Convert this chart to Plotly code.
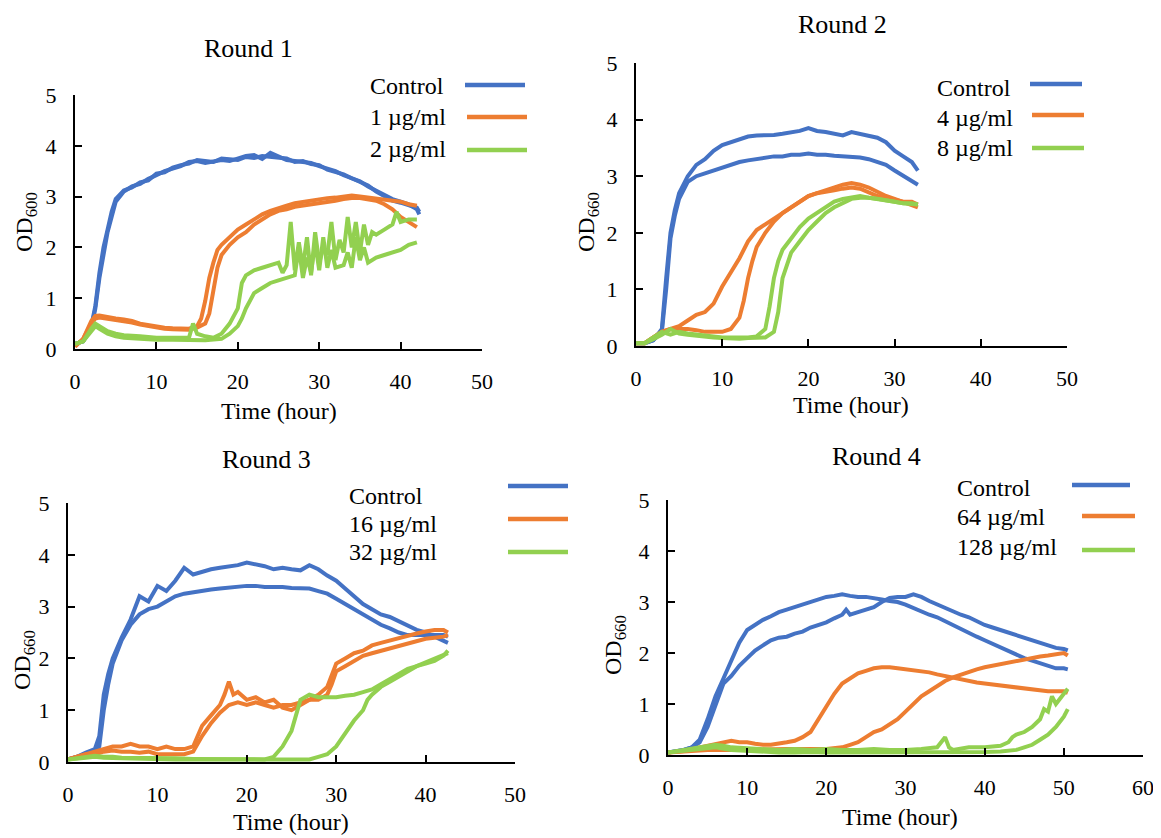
import plotly.graph_objects as go

W, H = 1161, 838
OFF = 8  # page body margin of the rendered html
FW, FH = W - OFF, H - OFF
BLUE, ORANGE, GREEN = "#4472C4", "#ED7D31", "#92D050"
FONT = "Liberation Serif"

# ---------------- Round 1 data ----------------
r1_titles = ["Control", "1 µg/ml", "2 µg/ml"]
r1_ctrl_a_t = [0, 1, 2, 2.5, 3, 3.5, 4, 4.5, 5, 6, 7, 8, 9, 10, 11, 12, 13, 14, 15, 16, 17, 18, 19, 20, 21, 22, 23, 24, 25, 26, 27, 28, 29, 30, 31, 32, 33, 34, 35, 36, 37, 38, 39, 40, 41, 42, 42.3]
r1_ctrl_a_v = [0.1, 0.15, 0.4, 0.8, 1.4, 1.9, 2.3, 2.6, 2.9, 3.1, 3.2, 3.25, 3.35, 3.42, 3.5, 3.55, 3.6, 3.68, 3.7, 3.66, 3.7, 3.72, 3.7, 3.75, 3.8, 3.82, 3.74, 3.86, 3.8, 3.72, 3.7, 3.68, 3.66, 3.6, 3.55, 3.5, 3.42, 3.35, 3.3, 3.2, 3.12, 3.05, 2.95, 2.9, 2.85, 2.75, 2.65]
r1_ctrl_b_t = [0, 1, 2, 2.5, 3, 3.5, 4, 4.5, 5, 6, 7, 8, 9, 10, 11, 12, 13, 14, 15, 16, 17, 18, 19, 20, 21, 22, 23, 24, 25, 26, 27, 28, 29, 30, 31, 32, 33, 34, 35, 36, 37, 38, 39, 40, 41, 42, 42.3]
r1_ctrl_b_v = [0.1, 0.15, 0.45, 0.85, 1.5, 2.0, 2.35, 2.7, 2.95, 3.12, 3.18, 3.28, 3.32, 3.45, 3.48, 3.57, 3.62, 3.65, 3.72, 3.7, 3.68, 3.75, 3.73, 3.72, 3.78, 3.76, 3.8, 3.78, 3.76, 3.75, 3.68, 3.7, 3.64, 3.62, 3.53, 3.48, 3.44, 3.36, 3.28, 3.22, 3.1, 3.02, 2.92, 2.88, 2.82, 2.78, 2.7]
r1_o1_a_t = [0, 1, 2, 2.5, 3, 4, 5, 6, 7, 8, 9, 10, 11, 12, 13, 14, 15, 15.5, 16, 16.5, 17, 17.5, 18, 19, 20, 21, 22, 23, 24, 25, 26, 27, 28, 29, 30, 31, 32, 33, 34, 35, 36, 37, 38, 39, 40, 41, 42]
r1_o1_a_v = [0.05, 0.2, 0.55, 0.65, 0.66, 0.62, 0.6, 0.58, 0.55, 0.5, 0.47, 0.44, 0.42, 0.41, 0.4, 0.4, 0.45, 0.6, 0.95, 1.4, 1.7, 1.95, 2.05, 2.2, 2.35, 2.45, 2.55, 2.65, 2.72, 2.78, 2.82, 2.87, 2.9, 2.93, 2.95, 2.97, 2.98, 3.0, 3.02, 3.0, 2.98, 2.97, 2.95, 2.92, 2.9, 2.85, 2.82]
r1_o1_b_t = [0, 1, 2, 2.5, 3, 4, 5, 6, 7, 8, 9, 10, 11, 12, 13, 14, 15, 16, 16.5, 17, 17.5, 18, 19, 20, 21, 22, 23, 24, 25, 26, 27, 28, 29, 30, 31, 32, 33, 34, 35, 36, 37, 38, 39, 40, 41, 42]
r1_o1_b_v = [0.05, 0.2, 0.5, 0.6, 0.62, 0.6, 0.58, 0.55, 0.52, 0.48, 0.45, 0.42, 0.4, 0.39, 0.38, 0.38, 0.42, 0.5, 0.7, 1.1, 1.6, 1.85, 2.05, 2.2, 2.3, 2.45, 2.55, 2.65, 2.72, 2.75, 2.8, 2.82, 2.85, 2.88, 2.9, 2.92, 2.95, 2.97, 2.97, 2.95, 2.92, 2.85, 2.75, 2.6, 2.5, 2.4]
r1_o2_a_t = [0, 1, 2, 2.5, 3, 4, 5, 6, 8, 10, 12, 14, 14.5, 15, 16, 17, 18, 19, 20, 20.5, 21, 22, 23, 24, 25, 25.5, 26, 26.5, 27, 27.5, 28, 28.5, 29, 29.5, 30, 30.5, 31, 31.5, 32, 32.5, 33, 33.5, 34, 34.5, 35, 35.5, 36, 36.5, 37, 38, 39, 39.5, 40, 41, 42]
r1_o2_a_v = [0.1, 0.15, 0.4, 0.5, 0.45, 0.35, 0.3, 0.27, 0.25, 0.22, 0.22, 0.22, 0.5, 0.3, 0.25, 0.22, 0.3, 0.5, 0.8, 1.3, 1.45, 1.55, 1.6, 1.65, 1.7, 1.5, 1.65, 2.5, 1.55, 2.1, 1.6, 2.2, 1.45, 2.3, 1.7, 2.0, 1.85, 2.5, 1.75, 2.15, 1.9, 2.6, 2.0, 2.5, 1.9, 2.45, 2.05, 2.3, 2.25, 2.35, 2.45, 2.7, 2.5, 2.55, 2.55]
r1_o2_b_t = [0, 1, 2, 2.5, 3, 4, 5, 6, 8, 10, 12, 14, 16, 18, 19, 20, 20.5, 21, 22, 23, 24, 25, 26, 27, 27.5, 28, 28.5, 29, 29.5, 30, 30.5, 31, 31.5, 32, 33, 33.5, 34, 34.5, 35, 35.5, 36, 37, 38, 39, 40, 41, 42]
r1_o2_b_v = [0.1, 0.15, 0.35, 0.45, 0.4, 0.3, 0.25, 0.22, 0.2, 0.18, 0.18, 0.17, 0.17, 0.2, 0.3, 0.45, 0.6, 0.8, 1.1, 1.2, 1.3, 1.35, 1.4, 1.45, 2.0, 1.4, 1.8, 1.5, 2.1, 1.55, 2.2, 1.6, 1.95, 1.6, 1.65, 1.9, 1.6, 2.2, 1.75, 2.0, 1.7, 1.8, 1.85, 1.9, 1.95, 2.05, 2.1]

# ---------------- Round 2 data ----------------
r2_titles = ["Control", "4 µg/ml", "8 µg/ml"]
r2_ctrl_a_t = [0, 1, 2, 3, 3.5, 4, 4.5, 5, 6, 7, 8, 9, 10, 11, 12, 13, 14, 15, 16, 17, 18, 19, 20, 21, 22, 23, 24, 25, 26, 27, 28, 29, 30, 31, 32, 32.7]
r2_ctrl_a_v = [0.05, 0.05, 0.1, 0.3, 1.2, 2.0, 2.4, 2.7, 3.0, 3.2, 3.3, 3.45, 3.55, 3.6, 3.65, 3.7, 3.72, 3.72, 3.73, 3.75, 3.77, 3.8, 3.85, 3.8, 3.78, 3.75, 3.72, 3.78, 3.75, 3.72, 3.68, 3.6, 3.45, 3.35, 3.25, 3.1]
r2_ctrl_b_t = [0, 1, 2, 3, 3.5, 4, 4.5, 5, 6, 7, 8, 9, 10, 11, 12, 13, 14, 15, 16, 17, 18, 19, 20, 21, 22, 23, 24, 25, 26, 27, 28, 29, 30, 31, 32, 32.7]
r2_ctrl_b_v = [0.05, 0.05, 0.1, 0.25, 1.0, 1.9, 2.3, 2.6, 2.9, 3.0, 3.05, 3.1, 3.15, 3.2, 3.25, 3.28, 3.3, 3.32, 3.35, 3.35, 3.38, 3.38, 3.4, 3.38, 3.38, 3.36, 3.35, 3.35, 3.33, 3.3, 3.25, 3.2, 3.1, 3.0, 2.92, 2.85]
r2_o1_a_t = [0, 1, 2, 3, 4, 5, 6, 7, 8, 9, 10, 11, 12, 13, 14, 15, 16, 17, 18, 19, 20, 21, 22, 23, 24, 25, 26, 27, 28, 29, 30, 31, 32, 32.7]
r2_o1_a_v = [0.05, 0.05, 0.15, 0.25, 0.3, 0.35, 0.45, 0.55, 0.6, 0.75, 1.05, 1.3, 1.55, 1.85, 2.05, 2.15, 2.25, 2.35, 2.45, 2.55, 2.65, 2.7, 2.75, 2.8, 2.85, 2.88, 2.85, 2.8, 2.72, 2.65, 2.6, 2.55, 2.5, 2.45]
r2_o1_b_t = [0, 1, 2, 3, 4, 5, 6, 7, 8, 9, 10, 11, 12, 12.5, 13, 13.5, 14, 15, 16, 17, 18, 19, 20, 21, 22, 23, 24, 25, 26, 27, 28, 29, 30, 31, 32, 32.7]
r2_o1_b_v = [0.05, 0.05, 0.15, 0.25, 0.3, 0.3, 0.3, 0.28, 0.25, 0.25, 0.25, 0.3, 0.5, 0.8, 1.2, 1.5, 1.75, 2.0, 2.2, 2.35, 2.45, 2.55, 2.65, 2.7, 2.72, 2.75, 2.78, 2.8, 2.78, 2.72, 2.65, 2.62, 2.58, 2.55, 2.55, 2.5]
r2_o2_a_t = [0, 1, 2, 3, 4, 5, 6, 7, 8, 9, 10, 11, 12, 13, 14, 15, 15.5, 16, 16.5, 17, 18, 19, 20, 21, 22, 23, 24, 25, 26, 27, 28, 29, 30, 31, 32, 32.7]
r2_o2_a_v = [0.05, 0.05, 0.15, 0.25, 0.2, 0.25, 0.22, 0.2, 0.18, 0.16, 0.15, 0.15, 0.15, 0.15, 0.17, 0.3, 0.7, 1.2, 1.5, 1.7, 1.9, 2.1, 2.25, 2.35, 2.45, 2.55, 2.6, 2.62, 2.65, 2.62, 2.6, 2.58, 2.55, 2.52, 2.52, 2.5]
r2_o2_b_t = [0, 1, 2, 3, 4, 5, 6, 7, 8, 9, 10, 11, 12, 13, 14, 15, 16, 16.5, 17, 17.5, 18, 19, 20, 21, 22, 23, 24, 25, 26, 27, 28, 29, 30, 31, 32, 32.7]
r2_o2_b_v = [0.05, 0.05, 0.12, 0.2, 0.3, 0.22, 0.2, 0.18, 0.16, 0.15, 0.14, 0.13, 0.13, 0.14, 0.14, 0.15, 0.25, 0.6, 1.2, 1.45, 1.65, 1.85, 2.05, 2.2, 2.35, 2.45, 2.52, 2.6, 2.62, 2.62, 2.6, 2.58, 2.55, 2.52, 2.5, 2.5]

# ---------------- Round 3 data ----------------
r3_titles = ["Control", "16 µg/ml", "32 µg/ml"]
r3_ctrl_a_t = [0, 1, 2, 3, 3.5, 4, 4.5, 5, 6, 7, 8, 9, 10, 11, 12, 13, 14, 15, 16, 17, 18, 19, 20, 21, 22, 23, 24, 25, 26, 27, 28, 29, 30, 31, 32, 33, 34, 35, 36, 37, 38, 39, 40, 41, 42, 42.5]
r3_ctrl_a_v = [0.05, 0.1, 0.18, 0.25, 0.5, 1.3, 1.7, 2.0, 2.4, 2.75, 3.2, 3.1, 3.4, 3.3, 3.5, 3.75, 3.62, 3.68, 3.72, 3.75, 3.78, 3.8, 3.85, 3.82, 3.78, 3.72, 3.75, 3.72, 3.7, 3.8, 3.72, 3.6, 3.5, 3.35, 3.2, 3.05, 2.95, 2.85, 2.8, 2.72, 2.65, 2.55, 2.5, 2.42, 2.35, 2.3]
r3_ctrl_b_t = [0, 1, 2, 3, 3.5, 4, 4.5, 5, 6, 7, 8, 9, 10, 11, 12, 13, 14, 15, 16, 17, 18, 19, 20, 21, 22, 23, 24, 25, 26, 27, 28, 29, 30, 31, 32, 33, 34, 35, 36, 37, 38, 39, 40, 41, 42, 42.5]
r3_ctrl_b_v = [0.05, 0.1, 0.15, 0.2, 0.3, 1.0, 1.5, 1.9, 2.35, 2.65, 2.85, 2.95, 3.0, 3.1, 3.2, 3.25, 3.28, 3.3, 3.33, 3.35, 3.37, 3.38, 3.4, 3.4, 3.38, 3.38, 3.38, 3.36, 3.36, 3.35, 3.3, 3.25, 3.15, 3.05, 2.95, 2.85, 2.75, 2.65, 2.58, 2.5, 2.45, 2.45, 2.45, 2.45, 2.45, 2.42]
r3_o1_a_t = [0, 1, 2, 3, 4, 5, 6, 7, 8, 9, 10, 11, 12, 13, 14, 14.5, 15, 16, 17, 17.5, 18, 18.5, 19, 20, 21, 22, 23, 24, 25, 26, 27, 28, 29, 29.5, 30, 31, 32, 33, 34, 35, 36, 37, 38, 39, 40, 41, 42, 42.5]
r3_o1_a_v = [0.05, 0.1, 0.15, 0.2, 0.25, 0.3, 0.3, 0.35, 0.3, 0.3, 0.25, 0.3, 0.25, 0.25, 0.3, 0.5, 0.7, 0.9, 1.1, 1.3, 1.55, 1.3, 1.35, 1.2, 1.25, 1.15, 1.2, 1.05, 1.0, 1.1, 1.2, 1.3, 1.45, 1.7, 1.9, 2.0, 2.1, 2.15, 2.25, 2.3, 2.35, 2.4, 2.45, 2.48, 2.52, 2.55, 2.55, 2.5]
r3_o1_b_t = [0, 1, 2, 3, 4, 5, 6, 7, 8, 9, 10, 11, 12, 13, 14, 15, 16, 17, 18, 19, 20, 21, 22, 23, 24, 25, 26, 27, 28, 29, 29.5, 30, 31, 32, 33, 34, 35, 36, 37, 38, 39, 40, 41, 42, 42.5]
r3_o1_b_v = [0.05, 0.1, 0.15, 0.15, 0.2, 0.22, 0.2, 0.2, 0.18, 0.2, 0.15, 0.15, 0.15, 0.15, 0.2, 0.5, 0.75, 0.95, 1.1, 1.15, 1.1, 1.15, 1.1, 1.05, 1.1, 1.1, 1.15, 1.2, 1.2, 1.3, 1.5, 1.75, 1.85, 1.95, 2.05, 2.1, 2.15, 2.2, 2.25, 2.3, 2.35, 2.38, 2.4, 2.42, 2.45]
r3_o2_a_t = [0, 1, 2, 3, 4, 5, 6, 8, 10, 12, 14, 16, 18, 20, 22, 23, 24, 25, 25.5, 26, 27, 28, 29, 30, 31, 32, 33, 34, 35, 36, 37, 38, 39, 40, 41, 42, 42.5]
r3_o2_a_v = [0.05, 0.07, 0.1, 0.12, 0.1, 0.1, 0.08, 0.08, 0.07, 0.07, 0.06, 0.06, 0.06, 0.05, 0.05, 0.1, 0.3, 0.6, 0.9, 1.2, 1.3, 1.25, 1.25, 1.25, 1.28, 1.3, 1.35, 1.4, 1.5, 1.6, 1.7, 1.8, 1.85, 1.92, 2.0, 2.08, 2.1]
r3_o2_b_t = [0, 1, 2, 3, 4, 6, 8, 10, 12, 14, 16, 18, 20, 22, 24, 26, 27, 28, 29, 30, 31, 32, 33, 33.5, 34, 35, 36, 37, 38, 39, 40, 41, 42, 42.5]
r3_o2_b_v = [0.05, 0.06, 0.08, 0.1, 0.08, 0.07, 0.06, 0.06, 0.05, 0.05, 0.05, 0.05, 0.05, 0.05, 0.05, 0.05, 0.05, 0.1, 0.15, 0.3, 0.55, 0.8, 1.0, 1.2, 1.3, 1.45, 1.55, 1.65, 1.75, 1.85, 1.9, 1.95, 2.05, 2.15]

# ---------------- Round 4 data ----------------
r4_titles = ["Control", "64 µg/ml", "128 µg/ml"]
r4_ctrl_a_t = [0, 1, 2, 3, 4, 5, 6, 7, 8, 9, 10, 11, 12, 13, 14, 15, 16, 17, 18, 19, 20, 21, 22, 23, 24, 25, 26, 27, 28, 29, 30, 31, 32, 33, 34, 35, 36, 37, 38, 39, 40, 41, 42, 43, 44, 45, 46, 47, 48, 49, 50, 50.5]
r4_ctrl_a_v = [0.05, 0.07, 0.1, 0.15, 0.3, 0.7, 1.15, 1.5, 1.85, 2.2, 2.45, 2.55, 2.65, 2.72, 2.8, 2.85, 2.9, 2.95, 3.0, 3.05, 3.1, 3.12, 3.15, 3.12, 3.1, 3.1, 3.08, 3.05, 3.02, 3.0, 2.95, 2.88, 2.82, 2.75, 2.7, 2.62, 2.55, 2.48, 2.4, 2.32, 2.25, 2.18, 2.1, 2.02, 1.95, 1.9, 1.85, 1.8, 1.75, 1.7, 1.7, 1.68]
r4_ctrl_b_t = [0, 1, 2, 3, 4, 5, 6, 7, 8, 9, 10, 11, 12, 13, 14, 15, 16, 17, 18, 19, 20, 21, 22, 22.5, 23, 24, 25, 26, 27, 28, 29, 30, 31, 32, 33, 34, 35, 36, 37, 38, 39, 40, 41, 42, 43, 44, 45, 46, 47, 48, 49, 50, 50.5]
r4_ctrl_b_v = [0.05, 0.07, 0.1, 0.15, 0.25, 0.55, 1.0, 1.4, 1.55, 1.75, 1.9, 2.05, 2.15, 2.25, 2.3, 2.32, 2.38, 2.42, 2.5, 2.55, 2.6, 2.68, 2.75, 2.85, 2.75, 2.8, 2.85, 2.9, 3.0, 3.08, 3.1, 3.1, 3.15, 3.1, 3.02, 2.95, 2.88, 2.82, 2.75, 2.7, 2.62, 2.55, 2.5, 2.45, 2.4, 2.35, 2.3, 2.25, 2.2, 2.15, 2.1, 2.08, 2.05]
r4_o1_a_t = [0, 2, 4, 5, 6, 7, 8, 9, 10, 11, 12, 13, 14, 15, 16, 17, 18, 19, 20, 21, 22, 23, 24, 25, 26, 27, 28, 29, 30, 31, 32, 33, 34, 35, 36, 37, 38, 39, 40, 41, 42, 43, 44, 45, 46, 47, 48, 49, 50, 50.5]
r4_o1_a_v = [0.05, 0.08, 0.15, 0.18, 0.2, 0.25, 0.28, 0.25, 0.25, 0.22, 0.2, 0.2, 0.22, 0.25, 0.28, 0.35, 0.45, 0.7, 0.95, 1.2, 1.4, 1.5, 1.6, 1.65, 1.7, 1.72, 1.72, 1.7, 1.68, 1.67, 1.65, 1.62, 1.58, 1.55, 1.5, 1.48, 1.45, 1.42, 1.4, 1.38, 1.36, 1.35, 1.32, 1.3, 1.28, 1.27, 1.25, 1.25, 1.25, 1.22]
r4_o1_b_t = [0, 5, 10, 15, 20, 22, 23, 24, 25, 26, 27, 28, 29, 30, 31, 32, 33, 34, 35, 36, 37, 38, 39, 40, 41, 42, 43, 44, 45, 46, 47, 48, 49, 50, 50.5]
r4_o1_b_v = [0.05, 0.1, 0.1, 0.12, 0.12, 0.15, 0.2, 0.25, 0.35, 0.45, 0.5, 0.6, 0.7, 0.85, 1.0, 1.15, 1.25, 1.35, 1.45, 1.52, 1.58, 1.63, 1.68, 1.72, 1.75, 1.78, 1.82, 1.85, 1.88, 1.9, 1.93, 1.95, 1.97, 2.0, 1.95]
r4_o2_a_t = [0, 2, 4, 5, 6, 7, 8, 10, 12, 14, 16, 18, 20, 22, 24, 26, 28, 30, 32, 34, 35, 35.5, 36, 38, 40, 42, 43, 43.5, 44, 45, 46, 47, 47.5, 48, 48.5, 49, 50, 50.5]
r4_o2_a_v = [0.05, 0.1, 0.15, 0.18, 0.2, 0.18, 0.15, 0.13, 0.12, 0.1, 0.12, 0.1, 0.12, 0.1, 0.1, 0.12, 0.1, 0.1, 0.12, 0.15, 0.35, 0.15, 0.1, 0.15, 0.15, 0.18, 0.25, 0.35, 0.4, 0.45, 0.55, 0.7, 0.9, 0.85, 1.15, 1.0, 1.2, 1.3]
r4_o2_b_t = [0, 2, 4, 6, 8, 10, 12, 14, 16, 18, 20, 22, 24, 26, 28, 30, 32, 34, 36, 38, 40, 42, 44, 45, 46, 47, 48, 49, 50, 50.5]
r4_o2_b_v = [0.05, 0.08, 0.12, 0.15, 0.1, 0.08, 0.06, 0.05, 0.05, 0.06, 0.05, 0.05, 0.05, 0.06, 0.05, 0.05, 0.05, 0.06, 0.05, 0.06, 0.06, 0.07, 0.1, 0.15, 0.2, 0.3, 0.4, 0.55, 0.75, 0.9]

panels = [
    dict(title="Round 1", ylab="OD<sub>600</sub>", xmax=50, names=r1_titles,
         series=[(r1_ctrl_a_t, r1_ctrl_a_v, BLUE), (r1_ctrl_b_t, r1_ctrl_b_v, BLUE),
                 (r1_o1_a_t, r1_o1_a_v, ORANGE), (r1_o1_b_t, r1_o1_b_v, ORANGE),
                 (r1_o2_a_t, r1_o2_a_v, GREEN), (r1_o2_b_t, r1_o2_b_v, GREEN)],
         box=(75, 482, 349, 95), title_xy=(248, 48), ylab_xy=(26, 222), xlab_xy=(279, 411),
         leg_text_x=368, leg_text_y=[86, 117, 149], leg_line=[(465, 525, 85), (467, 527, 117), (467, 527, 150)]),
    dict(title="Round 2", ylab="OD<sub>660</sub>", xmax=50, names=r2_titles,
         series=[(r2_ctrl_a_t, r2_ctrl_a_v, BLUE), (r2_ctrl_b_t, r2_ctrl_b_v, BLUE),
                 (r2_o1_a_t, r2_o1_a_v, ORANGE), (r2_o1_b_t, r2_o1_b_v, ORANGE),
                 (r2_o2_a_t, r2_o2_a_v, GREEN), (r2_o2_b_t, r2_o2_b_v, GREEN)],
         box=(636, 1067, 346, 63), title_xy=(843, 24), ylab_xy=(588, 222), xlab_xy=(851, 405),
         leg_text_x=935, leg_text_y=[88, 118, 148], leg_line=[(1030, 1082, 84), (1032, 1084, 115), (1032, 1084, 148)]),
    dict(title="Round 3", ylab="OD<sub>660</sub>", xmax=50, names=r3_titles,
         series=[(r3_ctrl_a_t, r3_ctrl_a_v, BLUE), (r3_ctrl_b_t, r3_ctrl_b_v, BLUE),
                 (r3_o1_a_t, r3_o1_a_v, ORANGE), (r3_o1_b_t, r3_o1_b_v, ORANGE),
                 (r3_o2_a_t, r3_o2_a_v, GREEN), (r3_o2_b_t, r3_o2_b_v, GREEN)],
         box=(68, 515, 762, 503), title_xy=(266, 459), ylab_xy=(24, 660), xlab_xy=(291, 822),
         leg_text_x=347, leg_text_y=[496, 524, 552], leg_line=[(508, 568, 486), (508, 568, 519), (508, 568, 552)]),
    dict(title="Round 4", ylab="OD<sub>660</sub>", xmax=60, names=r4_titles,
         series=[(r4_ctrl_a_t, r4_ctrl_a_v, BLUE), (r4_ctrl_b_t, r4_ctrl_b_v, BLUE),
                 (r4_o1_a_t, r4_o1_a_v, ORANGE), (r4_o1_b_t, r4_o1_b_v, ORANGE),
                 (r4_o2_a_t, r4_o2_a_v, GREEN), (r4_o2_b_t, r4_o2_b_v, GREEN)],
         box=(668, 1143, 755, 500), title_xy=(876, 456), ylab_xy=(615, 645), xlab_xy=(900, 817),
         leg_text_x=955, leg_text_y=[488, 517, 547], leg_line=[(1072, 1130, 485), (1082, 1135, 516), (1082, 1135, 550)]),
]

def px(x):
    return (x - OFF) / FW

def py(y):
    return 1 - (y - OFF) / FH

fig = go.Figure()
layout = dict(width=FW, height=FH, margin=dict(l=0, r=0, t=0, b=0, autoexpand=False),
              paper_bgcolor="white", plot_bgcolor="white", showlegend=False,
              font=dict(family=FONT, color="black"))
annotations, shapes = [], []

for i, p in enumerate(panels, start=1):
    xa = "x" if i == 1 else f"x{i}"
    ya = "y" if i == 1 else f"y{i}"
    for t, v, c in p["series"]:
        fig.add_trace(go.Scatter(x=t, y=v, mode="lines", xaxis=xa, yaxis=ya,
                                 line=dict(color=c, width=4), hoverinfo="skip"))
    x0, x1, yb, yt = p["box"]
    axis_common = dict(showline=True, linecolor="black", linewidth=2, ticks="inside",
                       ticklen=7, tickwidth=2, tickcolor="black", showgrid=False,
                       zeroline=False, automargin=False,
                       tickfont=dict(family=FONT, size=22, color="black"))
    layout["xaxis" if i == 1 else f"xaxis{i}"] = dict(
        domain=[px(x0), px(x1)], range=[0, p["xmax"]], dtick=10, anchor=ya,
        ticklabelstandoff=12, **axis_common)
    layout["yaxis" if i == 1 else f"yaxis{i}"] = dict(
        domain=[py(yb), py(yt)], range=[0, 5], dtick=1, anchor=xa,
        ticklabelstandoff=12, **axis_common)
    annotations.append(dict(text=p["title"], x=px(p["title_xy"][0]), y=py(p["title_xy"][1]),
                            xref="paper", yref="paper", showarrow=False,
                            font=dict(family=FONT, size=26), xanchor="center", yanchor="middle"))
    annotations.append(dict(text=p["ylab"], x=px(p["ylab_xy"][0]), y=py(p["ylab_xy"][1]),
                            xref="paper", yref="paper", showarrow=False, textangle=-90,
                            font=dict(family=FONT, size=24), xanchor="center", yanchor="middle"))
    annotations.append(dict(text="Time (hour)", x=px(p["xlab_xy"][0]), y=py(p["xlab_xy"][1]),
                            xref="paper", yref="paper", showarrow=False,
                            font=dict(family=FONT, size=24), xanchor="center", yanchor="middle"))
    colors = [BLUE, ORANGE, GREEN]
    for name, ty, (lx0, lx1, ly), c in zip(p["names"], p["leg_text_y"], p["leg_line"], colors):
        annotations.append(dict(text=name, x=px(p["leg_text_x"]), y=py(ty), xref="paper", yref="paper",
                                showarrow=False, font=dict(family=FONT, size=24),
                                xanchor="left", yanchor="middle"))
        shapes.append(dict(type="line", xref="paper", yref="paper", x0=px(lx0), x1=px(lx1),
                           y0=py(ly), y1=py(ly), line=dict(color=c, width=4.5)))

layout["annotations"] = annotations
layout["shapes"] = shapes
fig.update_layout(**layout)
fig.write_html("out.html")
